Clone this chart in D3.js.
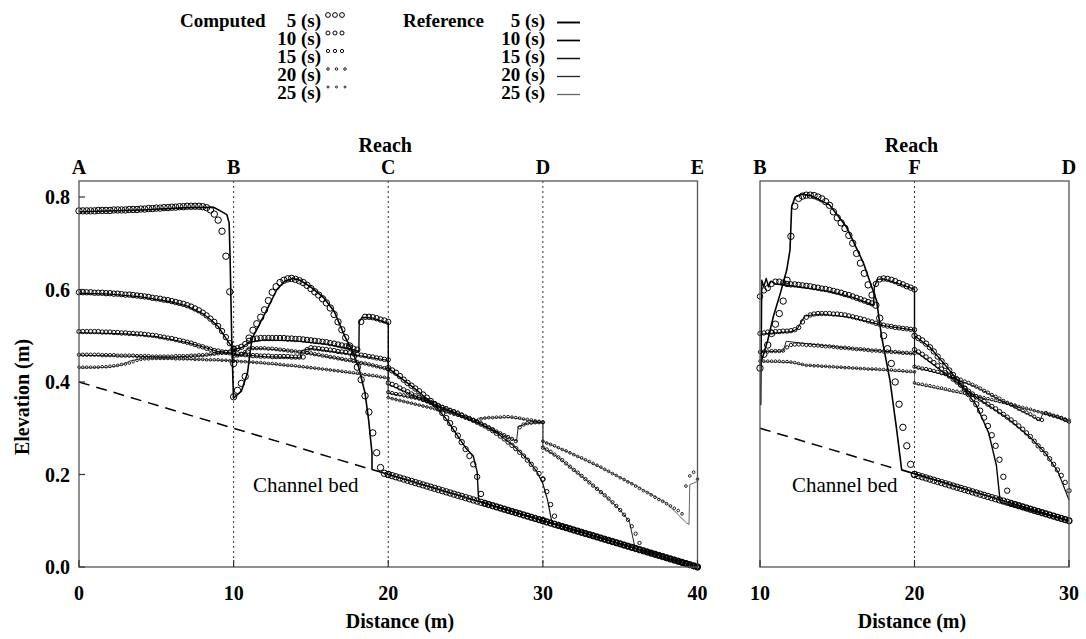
<!DOCTYPE html>
<html>
<head>
<meta charset="utf-8">
<script src="https://cdn.jsdelivr.net/npm/d3@7"></script>
<style>
  html, body { margin: 0; padding: 0; background: #fff; }
</style>
</head>
<body>
<svg id="chart" width="1086" height="639"></svg>
<script>
// ---------------- data ----------------
const timesSec = [5, 10, 15, 20, 25];
const yTicks = [0, 0.2, 0.4, 0.6, 0.8];
const xTicksL = [0, 10, 20, 30, 40];
const xTicksR = [10, 20, 30];
const reachLabelsL = ["A", "B", "C", "D", "E"];
const reachNodesL = [0, 10, 20, 30, 40];
const reachLabelsR = ["B", "F", "D"];
const reachNodesR = [10, 20, 30];
const reachStartL = [0, 10, 20, 30];
const reachStartR = [10, 20];
const nodeStep = 0.25;

// dry channel bed elevation at the computational nodes (m)
const bedCD = [.2,.1975,.195,.1925,.19,.1875,.185,.1825,.18,.1775,.175,.1725,.17,.1675,.165,.1625,.16,.1575,.155,.1525,.15,.1475,.145,.1425,.14,.1375,.135,.1325,.13,.1275,.125,.1225,.12,.1175,.115,.1125,.11,.1075,.105,.1025,.1];
const bedDE = [.1,.0975,.095,.0925,.09,.0875,.085,.0825,.08,.0775,.075,.0725,.07,.0675,.065,.0625,.06,.0575,.055,.0525,.05,.0475,.045,.0425,.04,.0375,.035,.0325,.03,.0275,.025,.0225,.02,.0175,.015,.0125,.01,.0075,.005,.0025,0];

// dashed bed line
const bedLineL = [[0, .4], [18.9, .211]];
const bedLineR = [[10, .3], [18.9, .211]];

// computed water surface, main channel A-B-C-D-E (one array per reach)
const compL05 = [
  [.770,.770,.770,.770,.770,.771,.771,.771,.771,.772,.772,.772,.772,.773,.773,.773,.774,.774,.775,.775,.776,.776,.777,.777,.778,.778,.779,.779,.780,.780,.780,.780,.779,.777,.772,.763,.750,.726,.672,.595,.440],
  [.368,.382,.397,.412,.495,.512,.526,.540,.556,.576,.594,.606,.615,.620,.623,.624,.622,.619,.615,.609,.602,.595,.588,.580,.571,.560,.546,.530,.513,.496,.478,.456,.432,.405,.370,.335,.290,.247,.215,.2025,.200],
  bedCD,
  bedDE
];
const compL10 = [
  [.594,.594,.594,.594,.593,.593,.593,.592,.592,.591,.591,.590,.589,.589,.588,.587,.586,.585,.584,.582,.581,.580,.578,.577,.575,.573,.571,.569,.566,.563,.559,.555,.550,.544,.537,.530,.521,.510,.497,.484,.472],
  [.472,.473,.476,.482,.489,.493,.494,.495,.495,.495,.495,.495,.495,.495,.494,.494,.493,.493,.492,.491,.490,.489,.488,.487,.486,.484,.483,.481,.479,.477,.475,.472,.470,.530,.541,.541,.540,.538,.535,.533,.530],
  [.430,.425,.420,.413,.405,.398,.392,.386,.380,.373,.366,.359,.352,.343,.333,.322,.311,.298,.284,.270,.255,.240,.222,.195,.158, ...bedCD.slice(25)],
  bedDE
];
const compL15 = [
  [.509,.509,.509,.509,.509,.509,.508,.508,.508,.507,.507,.506,.506,.505,.505,.504,.504,.503,.502,.501,.500,.498,.497,.495,.494,.492,.490,.488,.486,.484,.481,.478,.476,.473,.471,.468,.467,.465,.464,.463,.462],
  [.462,.461,.460,.459,.458,.457,.457,.456,.456,.456,.455,.455,.455,.455,.455,.454,.454,.454,.454,.470,.474,.473,.472,.471,.470,.469,.468,.466,.465,.464,.463,.461,.460,.458,.457,.455,.454,.452,.451,.449,.448],
  [.398,.395,.392,.387,.383,.379,.374,.370,.367,.363,.360,.356,.353,.349,.345,.342,.338,.335,.331,.328,.324,.321,.317,.313,.309,.305,.300,.295,.289,.283,.277,.270,.263,.256,.248,.240,.231,.222,.212,.202,.190],
  [.190,.163,.135,.110, ...bedDE.slice(4)]
];
const compL20 = [
  [.459,.459,.459,.459,.459,.459,.458,.458,.458,.458,.457,.457,.457,.457,.457,.456,.456,.456,.456,.455,.455,.455,.455,.455,.455,.456,.456,.456,.456,.457,.457,.458,.458,.459,.460,.461,.462,.463,.465,.466,.465],
  [.455,.457,.460,.465,.472,.473,.473,.473,.473,.472,.472,.471,.470,.469,.468,.467,.466,.465,.464,.463,.462,.460,.459,.457,.456,.454,.453,.451,.450,.448,.447,.445,.443,.441,.440,.438,.436,.434,.432,.430,.428],
  [.378,.376,.374,.373,.371,.369,.367,.366,.364,.361,.358,.355,.352,.349,.346,.343,.340,.337,.334,.330,.325,.321,.318,.314,.310,.306,.302,.298,.293,.289,.285,.281,.277,.272,.302,.308,.311,.312,.313,.313,.313],
  [.258,.254,.249,.243,.237,.231,.224,.217,.210,.204,.197,.190,.183,.176,.169,.162,.155,.148,.140,.132,.123,.113,.102,.088,.072,.052, ...bedDE.slice(26)]
];
const compL25 = [
  [.432,.432,.432,.432,.432,.432,.433,.433,.434,.435,.436,.438,.439,.441,.444,.447,.449,.450,.450,.451,.451,.451,.451,.451,.451,.450,.450,.450,.450,.450,.449,.449,.449,.448,.448,.448,.448,.447,.447,.446,.446],
  [.445,.445,.444,.444,.443,.443,.442,.442,.441,.440,.440,.439,.438,.437,.436,.436,.435,.434,.433,.432,.431,.430,.429,.428,.427,.426,.425,.424,.423,.422,.421,.420,.419,.417,.416,.415,.414,.413,.411,.410,.408],
  [.366,.364,.362,.360,.358,.356,.354,.352,.350,.348,.346,.344,.342,.340,.338,.335,.333,.330,.328,.325,.323,.320,.318,.316,.320,.322,.323,.323,.324,.324,.325,.325,.324,.323,.322,.320,.319,.318,.316,.315,.313],
  [.272,.268,.265,.262,.258,.254,.251,.247,.243,.239,.236,.232,.228,.224,.220,.216,.211,.207,.202,.198,.193,.189,.184,.180,.175,.170,.165,.161,.156,.151,.146,.142,.137,.132,.127,.122,.115,.175,.197,.205,.190]
];

// computed water surface, branch B-F-D
const compR05 = [
  [.430,.460,.480,.505,.525,.548,.575,.620,.715,.780,.797,.802,.804,.804,.803,.800,.796,.790,.782,.768,.755,.744,.732,.717,.700,.678,.657,.635,.610,.588,.566,.538,.500,.472,.440,.400,.352,.302,.262,.222,.200],
  bedCD
];
const compR10 = [
  [.585,.598,.603,.612,.617,.617,.615,.612,.611,.611,.610,.609,.608,.607,.605,.604,.602,.601,.599,.597,.595,.593,.590,.588,.585,.582,.579,.576,.573,.570,.612,.622,.624,.623,.621,.618,.614,.611,.607,.604,.600],
  [.500,.495,.490,.483,.475,.466,.455,.445,.435,.425,.415,.405,.395,.385,.374,.363,.352,.338,.323,.305,.285,.262,.232,.195,.165, ...bedCD.slice(25)]
];
const compR15 = [
  [.505,.506,.508,.508,.509,.509,.510,.510,.511,.513,.518,.530,.540,.545,.547,.548,.548,.548,.548,.547,.547,.546,.545,.543,.541,.539,.537,.535,.532,.530,.527,.525,.523,.521,.520,.518,.517,.516,.515,.514,.513],
  [.470,.465,.460,.454,.448,.442,.435,.428,.420,.413,.406,.400,.393,.387,.380,.374,.368,.363,.358,.352,.347,.342,.336,.330,.324,.318,.312,.305,.298,.290,.282,.272,.262,.254,.245,.234,.222,.210,.198,.183,.165]
];
const compR20 = [
  [.465,.466,.466,.467,.467,.467,.468,.475,.480,.481,.481,.481,.480,.480,.479,.479,.478,.477,.477,.476,.475,.474,.474,.473,.472,.471,.471,.470,.469,.468,.468,.467,.466,.466,.465,.465,.464,.463,.463,.462,.462],
  [.433,.431,.429,.428,.426,.424,.422,.419,.417,.414,.411,.408,.405,.401,.398,.394,.390,.386,.381,.377,.372,.368,.364,.359,.355,.351,.347,.342,.338,.334,.330,.325,.320,.318,.333,.330,.327,.325,.322,.318,.314]
];
const compR25 = [
  [.445,.445,.445,.445,.445,.445,.444,.444,.443,.442,.440,.438,.436,.436,.435,.435,.434,.434,.433,.433,.432,.432,.431,.431,.430,.430,.429,.429,.428,.428,.428,.427,.427,.426,.426,.425,.425,.424,.423,.423,.422],
  [.398,.396,.395,.393,.392,.390,.388,.387,.385,.383,.381,.380,.378,.376,.374,.372,.370,.368,.366,.364,.362,.360,.358,.356,.354,.352,.350,.347,.345,.343,.341,.338,.336,.334,.332,.329,.327,.325,.323,.320,.318]
];

// reference solutions, main channel: [distance, elevation]
const refL05 = [[0,.768],[4,.772],[7,.777],[8.7,.778],[9.2,.769],[9.56,.762],[9.71,.744],[9.77,.671],[9.88,.49],[9.99,.365],[10.5,.38],[10.9,.42],[11.05,.46],[11.2,.495],[11.6,.52],[12.25,.563],[12.8,.6],[13.3,.618],[13.8,.624],[14.3,.62],[15,.605],[15.8,.583],[16.5,.553],[17.2,.498],[17.65,.469],[18.08,.433],[18.5,.376],[18.73,.318],[18.95,.246],[18.95,.211],[40,0]];
const refL10 = [[0,.592],[2,.59],[4,.584],[6,.573],[7,.564],[8,.548],[8.5,.535],[9,.52],[9.5,.495],[10,.47],[10.5,.474],[11,.486],[12,.491],[14,.489],[16,.482],[17.5,.472],[18.1,.466],[18.12,.53],[18.3,.54],[19,.538],[19.97,.527],[20,.527],[20,.43],[21,.404],[22,.378],[23,.35],[23.8,.318],[24.5,.283],[25,.258],[25.5,.24],[25.75,.205],[25.85,.142],[40,0]];
const refL15 = [[0,.507],[3,.504],[5,.498],[7,.485],[8,.476],[9,.466],[10,.46],[12,.455],[14.3,.452],[14.4,.468],[15,.472],[17,.463],[19.97,.447],[20,.447],[20,.395],[22,.366],[24,.337],[26,.309],[27,.29],[28,.265],[29,.233],[29.6,.207],[30,.18],[30.3,.145],[30.6,.094],[40,0]];
const refL20 = [[0,.458],[3,.456],[6,.454],[8,.457],[9.5,.464],[10,.462],[10.3,.456],[10.7,.46],[10.85,.472],[12,.472],[14,.466],[16,.455],[18,.443],[19.97,.428],[20,.428],[20,.376],[22,.363],[24,.339],[26,.309],[28.3,.272],[28.4,.303],[29,.311],[30,.312],[30,.258],[31,.237],[32,.21],[33,.183],[34,.155],[35,.123],[35.6,.098],[35.97,.04],[40,0]];
const refL25 = [[0,.43],[2,.432],[2.8,.437],[3.3,.446],[4,.45],[6,.45],[8,.448],[10,.446],[12,.44],[16,.427],[19.97,.408],[20,.408],[20,.366],[23,.342],[25.7,.315],[25.8,.322],[28,.323],[30,.312],[30,.272],[32,.243],[34,.211],[36,.176],[38,.138],[39.3,.095],[39.45,.092],[39.5,.178],[40,.185]];

// reference solutions, branch
const refR05 = [[10,.435],[10.5,.49],[10.86,.541],[11.3,.59],[11.73,.642],[11.94,.685],[12.05,.779],[12.27,.8],[12.7,.806],[13.3,.803],[14.5,.783],[15.6,.735],[16.7,.657],[17.55,.575],[17.87,.498],[18.41,.404],[18.85,.296],[19.17,.21],[30,.1]];
const refR10 = [[10.05,.35],[10.12,.62],[10.25,.606],[10.4,.624],[10.55,.606],[10.7,.618],[11,.612],[12,.608],[14.5,.596],[16,.583],[17.35,.566],[17.4,.605],[17.6,.622],[18,.623],[19,.612],[19.97,.601],[20,.601],[20,.5],[21,.475],[22,.436],[23,.395],[24,.35],[24.8,.29],[25.3,.22],[25.55,.14],[30,.1]];
const refR15 = [[10,.503],[12,.509],[12.4,.514],[12.9,.543],[14,.547],[16,.539],[18,.522],[19.97,.512],[20,.512],[20,.468],[22,.418],[24,.367],[26,.322],[27.5,.28],[28.5,.245],[29.3,.205],[30,.145]];
const refR20 = [[10,.465],[11.5,.467],[11.7,.488],[13,.483],[16,.472],[19.97,.461],[20,.461],[20,.432],[22,.415],[24,.389],[26,.353],[27.6,.326],[28.1,.316],[28.3,.331],[29,.326],[30,.312]];
const refR25 = [[10,.444],[12,.442],[13,.436],[16,.43],[19.97,.421],[20,.421],[20,.396],[24,.368],[28,.336],[30,.318]];

// ---------------- drawing ----------------
const FONT = '"Liberation Serif", serif';
const svg = d3.select("#chart");
const topY = 181, botY = 567;
const y = d3.scaleLinear().domain([0, 0.8]).range([botY, 197]);

const circleR = [3.2, 2.7, 2.2, 1.7, 1.35];
const circleW = [1.0, 1.0, 0.95, 0.9, 0.85];
const lineW = [1.6, 1.4, 1.2, 1.0, 1.0];
const lineC = ["#000", "#000", "#111", "#222", "#666"];

function label(sel, txt, size, bold) {
  return sel.append("text").style("font-family", FONT).attr("font-size", size)
    .attr("font-weight", bold ? "bold" : "normal").attr("fill", "#000").text(txt);
}

const panels = [
  { x: d3.scaleLinear().domain([0, 40]).range([79, 697.5]),
    starts: reachStartL, comp: [compL05, compL10, compL15, compL20, compL25],
    ref: [refL05, refL10, refL15, refL20, refL25],
    bounds: [10, 20, 30], labels: reachLabelsL, nodes: reachNodesL,
    xticks: xTicksL, bed: bedLineL, bedLabelX: 253, reachAt: 20, yAxis: true, titleX: 400 },
  { x: d3.scaleLinear().domain([10, 30]).range([760, 1069]),
    starts: reachStartR, comp: [compR05, compR10, compR15, compR20, compR25],
    ref: [refR05, refR10, refR15, refR20, refR25],
    bounds: [20], labels: reachLabelsR, nodes: reachNodesR,
    xticks: xTicksR, bed: bedLineR, bedLabelX: 792, reachAt: 20, yAxis: false, titleX: 912 }
];

panels.forEach(p => {
  const x = p.x;
  const [x0, x1] = x.range();
  const g = svg.append("g");

  // reach boundaries
  g.selectAll(null).data(p.bounds).enter().append("line")
    .attr("x1", d => x(d)).attr("x2", d => x(d))
    .attr("y1", topY).attr("y2", botY)
    .attr("stroke", "#333").attr("stroke-width", 1)
    .attr("stroke-dasharray", "2,3");

  // channel bed
  g.append("path").datum(p.bed)
    .attr("d", d3.line().x(d => x(d[0])).y(d => y(d[1])))
    .attr("fill", "none").attr("stroke", "#000").attr("stroke-width", 1.5)
    .attr("stroke-dasharray", "11,7");

  // reference lines
  p.ref.forEach((series, k) => {
    g.append("path").datum(series)
      .attr("d", d3.line().x(d => x(d[0])).y(d => y(d[1])))
      .attr("fill", "none").attr("stroke", lineC[k])
      .attr("stroke-width", lineW[k]).attr("stroke-linejoin", "round");
  });

  // computed profiles
  p.comp.forEach((reaches, k) => {
    const pts = [];
    reaches.forEach((vals, r) => {
      vals.forEach((v, j) => pts.push([p.starts[r] + j * nodeStep, v]));
    });
    g.selectAll(null).data(pts).enter().append("circle")
      .attr("cx", d => x(d[0])).attr("cy", d => y(d[1]))
      .attr("r", circleR[k]).attr("fill", "none")
      .attr("stroke", "#000").attr("stroke-width", circleW[k]);
  });

  // frame
  g.append("rect").attr("x", x0).attr("y", topY)
    .attr("width", x1 - x0).attr("height", botY - topY)
    .attr("fill", "none").attr("stroke", "#555").attr("stroke-width", 1.3);

  // x ticks and labels
  g.selectAll(null).data(p.xticks).enter().append("line")
    .attr("x1", d => x(d)).attr("x2", d => x(d))
    .attr("y1", botY).attr("y2", botY - 7)
    .attr("stroke", "#333").attr("stroke-width", 1.2);
  p.xticks.forEach(t => {
    label(g, String(t), 20, true).attr("x", x(t)).attr("y", 600).attr("text-anchor", "middle");
  });

  // y axis
  if (p.yAxis) {
    g.selectAll(null).data(yTicks).enter().append("line")
      .attr("x1", x0).attr("x2", x0 + 6)
      .attr("y1", d => y(d)).attr("y2", d => y(d))
      .attr("stroke", "#333").attr("stroke-width", 1.2);
    yTicks.forEach(t => {
      label(g, d3.format(".1f")(t), 20, true).attr("x", 70).attr("y", y(t))
        .attr("dy", "0.35em").attr("text-anchor", "end");
    });
  }

  // reach node labels
  p.labels.forEach((s, i) => {
    label(g, s, 20, true).attr("x", x(p.nodes[i])).attr("y", 174).attr("text-anchor", "middle");
  });
  label(g, "Reach", 20, true).attr("x", x(p.reachAt) - 3).attr("y", 152).attr("text-anchor", "middle");

  // bed label
  label(g, "Channel bed", 21, false).attr("x", p.bedLabelX).attr("y", 492);

  // x title
  label(g, "Distance (m)", 20, true).attr("x", p.titleX).attr("y", 628).attr("text-anchor", "middle");
});

// y title
label(svg, "Elevation (m)", 20, true)
  .attr("transform", "translate(29,397) rotate(-90)").attr("text-anchor", "middle");

// legend
const leg = svg.append("g");
const rowY = timesSec.map((t, i) => 27 + i * 18);
label(leg, "Computed", 19, true).attr("x", 180).attr("y", rowY[0]);
label(leg, "Reference", 19, true).attr("x", 403).attr("y", rowY[0]);
timesSec.forEach((t, i) => {
  label(leg, t + " (s)", 19, true).attr("x", 321).attr("y", rowY[i]).attr("text-anchor", "end");
  label(leg, t + " (s)", 19, true).attr("x", 545).attr("y", rowY[i]).attr("text-anchor", "end");
  const gap = i < 3 ? 7 : 8.5;
  [0, 1, 2].forEach(j => {
    leg.append("circle").attr("cx", 328 + j * gap).attr("cy", rowY[i] - 12)
      .attr("r", circleR[i] * 0.75).attr("fill", "none")
      .attr("stroke", "#000").attr("stroke-width", circleW[i]);
  });
  leg.append("line").attr("x1", 557).attr("x2", 580)
    .attr("y1", rowY[i] - 4.5).attr("y2", rowY[i] - 4.5)
    .attr("stroke", lineC[i]).attr("stroke-width", lineW[i] + 0.3);
});
</script>
</body>
</html>
